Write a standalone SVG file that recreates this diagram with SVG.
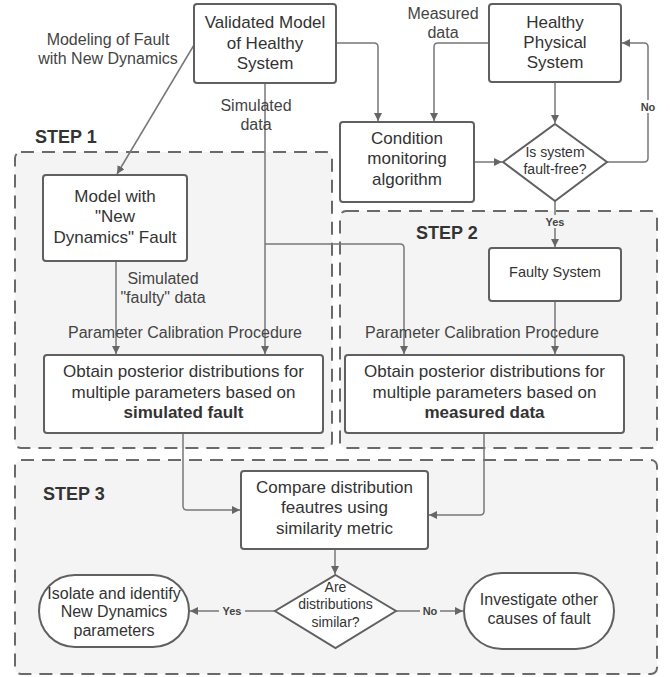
<svg xmlns="http://www.w3.org/2000/svg" width="670" height="677" viewBox="0 0 670 677">
<style>
text{font-family:"Liberation Sans",Arial,sans-serif;fill:#333;text-anchor:middle}
.n{font-size:17px}
.s{font-size:14px}
.f{font-size:14.5px}
.t{font-size:16px}
.lb{font-size:16px;fill:#444}
.yn{font-size:11px;font-weight:bold;fill:#444}
.step{font-size:18px;font-weight:bold;text-anchor:start;fill:#333}
.grp{fill:#f4f4f4;stroke:#6a6a6a;stroke-width:2;stroke-dasharray:13 8}
.box{fill:#fff;stroke:#606060;stroke-width:2}
.c{fill:none;stroke:#777;stroke-width:1.5;marker-end:url(#ah)}
.cn{fill:none;stroke:#777;stroke-width:1.5}
</style>
<defs>
<marker id="ah" viewBox="0 0 10 10" refX="10" refY="5" markerWidth="8" markerHeight="8" markerUnits="userSpaceOnUse" orient="auto">
<path d="M0,0 L10,5 L0,10 z" fill="#666"/>
</marker>
</defs>
<rect width="670" height="677" fill="#fff"/>
<g id="groups">
<rect class="grp" x="15" y="152" width="317" height="296" rx="6"/>
<rect class="grp" x="340" y="211" width="317" height="237" rx="6"/>
<rect class="grp" x="15" y="460" width="642" height="214" rx="6"/>
<text class="step" x="35" y="143">STEP 1</text>
<text class="step" x="416" y="239">STEP 2</text>
<text class="step" x="43" y="500">STEP 3</text>
</g>
<g id="connectors">
<path class="c" d="M194,45 L117,174"/>
<path class="c" d="M265,83 L265,354"/>
<path class="c" d="M265,244 L400,244 Q404,244 404,248 L404,354"/>
<path class="c" d="M336,43 L374,43 Q378,43 378,47 L378,121"/>
<path class="c" d="M489,43 L438,43 Q434,43 434,47 L434,121"/>
<path class="c" d="M555,82 L555,123"/>
<path class="c" d="M474,162 L502,162"/>
<path class="c" d="M607,162 L644,162 Q648,162 648,158 L648,47 Q648,43 644,43 L622,43"/>
<path class="c" d="M555,201 L555,247"/>
<path class="c" d="M555,301 L555,354"/>
<path class="c" d="M116,261 L116,354"/>
<path class="c" d="M183,433 L183,506 Q183,510 187,510 L240,510"/>
<path class="c" d="M484,433 L484,511 Q484,515 480,515 L429,515"/>
<path class="c" d="M335,549 L335,574"/>
<path class="c" d="M275,611 L190,611"/>
<path class="c" d="M396,611 L463,611"/>
<rect x="638" y="100" width="20" height="13" fill="#fff"/>
<text class="yn" x="648" y="111">No</text>
<rect x="542" y="215" width="26" height="13" fill="#f4f4f4"/>
<text class="yn" x="555" y="226">Yes</text>
<rect x="219" y="604" width="26" height="13" fill="#f4f4f4"/>
<text class="yn" x="232" y="615">Yes</text>
<rect x="420" y="604" width="20" height="13" fill="#f4f4f4"/>
<text class="yn" x="430" y="615">No</text>
<text class="lb" x="108" y="45">Modeling of Fault</text>
<text class="lb" x="108" y="64">with New Dynamics</text>
<text class="lb" x="256" y="111">Simulated</text>
<text class="lb" x="256" y="130">data</text>
<text class="lb" x="443" y="19">Measured</text>
<text class="lb" x="443" y="38">data</text>
<text class="lb" x="163" y="284">Simulated</text>
<text class="lb" x="163" y="303">"faulty" data</text>
<text class="lb" x="185" y="338">Parameter Calibration Procedure</text>
<text class="lb" x="482" y="338">Parameter Calibration Procedure</text>
</g>
<g id="validated">
<rect class="box" x="194" y="4" width="142" height="79" rx="3"/>
<text class="n" x="265" y="28">Validated Model</text>
<text class="n" x="265" y="49">of Healthy</text>
<text class="n" x="265" y="69">System</text>
</g>
<g id="healthy">
<rect class="box" x="489" y="4" width="132" height="78" rx="3"/>
<text class="n" x="555" y="28">Healthy</text>
<text class="n" x="555" y="48">Physical</text>
<text class="n" x="555" y="68">System</text>
</g>
<g id="condition">
<rect class="box" x="340" y="122" width="134" height="80" rx="3"/>
<text class="n" x="407" y="144">Condition</text>
<text class="n" x="407" y="164">monitoring</text>
<text class="n" x="407" y="185">algorithm</text>
</g>
<g id="faultfree">
<path class="box" d="M555,124 L607,162 L555,201 L503,162 Z"/>
<text class="s" x="555" y="157">Is system</text>
<text class="s" x="555" y="174">fault-free?</text>
</g>
<g id="model">
<rect class="box" x="43" y="175" width="144" height="86" rx="3"/>
<text class="n" x="115" y="202">Model with</text>
<text class="n" x="115" y="222">"New</text>
<text class="n" x="115" y="243">Dynamics" Fault</text>
</g>
<g id="faulty">
<rect class="box" x="489" y="248" width="132" height="53" rx="3"/>
<text class="f" x="555" y="277">Faulty System</text>
</g>
<g id="obtain1">
<rect class="box" x="44" y="355" width="279" height="78" rx="3"/>
<text class="n" x="183.5" y="377">Obtain posterior distributions for</text>
<text class="n" x="183.5" y="398">multiple parameters based on</text>
<text class="n" x="183.5" y="418" font-weight="bold">simulated fault</text>
</g>
<g id="obtain2">
<rect class="box" x="345" y="355" width="279" height="78" rx="3"/>
<text class="n" x="484.5" y="377">Obtain posterior distributions for</text>
<text class="n" x="484.5" y="398">multiple parameters based on</text>
<text class="n" x="484.5" y="418" font-weight="bold">measured data</text>
</g>
<g id="compare">
<rect class="box" x="241" y="471" width="187" height="78" rx="3"/>
<text class="n" x="334.5" y="493">Compare distribution</text>
<text class="n" x="334.5" y="513">feautres using</text>
<text class="n" x="334.5" y="534">similarity metric</text>
</g>
<g id="similar">
<path class="box" d="M335.5,575 L396,611 L335.5,648 L275,611 Z"/>
<text class="s" x="335.5" y="592">Are</text>
<text class="s" x="335.5" y="609">distributions</text>
<text class="s" x="335.5" y="627">similar?</text>
</g>
<g id="isolate">
<rect class="box" x="39" y="575" width="150" height="72" rx="36"/>
<text class="t" x="114" y="599">Isolate and identify</text>
<text class="t" x="114" y="617">New Dynamics</text>
<text class="t" x="114" y="636">parameters</text>
</g>
<g id="investigate">
<rect class="box" x="464" y="573" width="150" height="76" rx="38"/>
<text class="t" x="539" y="605">Investigate other</text>
<text class="t" x="539" y="624">causes of fault</text>
</g>
</svg>
